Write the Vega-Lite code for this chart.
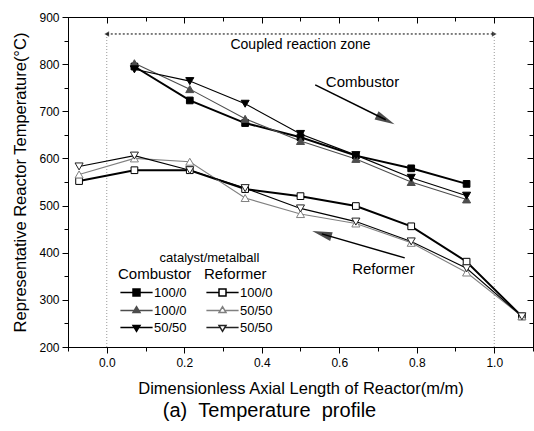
{
  "$schema": "https://vega.github.io/schema/vega-lite/v6.json",
  "width": 465,
  "height": 330,
  "autosize": "none",
  "padding": {"left": 68, "top": 17, "right": 1, "bottom": 84},
  "background": "white",
  "title": {"text": "(a)\u00a0\u00a0Temperature\u00a0\u00a0profile", "orient": "bottom", "anchor": "middle", "dx": -31, "fontSize": 20, "fontWeight": "normal", "font": "Liberation Sans", "color": "black", "offset": 4},
  "config": {
    "font": "Liberation Sans",
    "view": {"stroke": "black", "strokeWidth": 1},
    "axis": {"labelFont": "Liberation Sans", "labelFontSize": 12, "labelColor": "black", "tickColor": "black", "domainColor": "black", "titleColor": "black", "titleFontWeight": "normal", "titleFont": "Liberation Sans", "grid": false, "labelOverlap": false, "labelFlush": false},
    "legend": {"padding": 0, "titleFontSize": 15, "titleFontWeight": "normal", "titleColor": "black", "titleFont": "Liberation Sans", "titlePadding": 4, "labelFontSize": 13, "labelColor": "black", "labelFont": "Liberation Sans", "labelOffset": 23, "symbolSize": 49, "rowPadding": 3}
  },
  "datasets": {
    "comb": [
      {"x": 0.0714, "y": 795, "series": "C1"}, {"x": 0.2143, "y": 723, "series": "C1"}, {"x": 0.3571, "y": 675, "series": "C1"}, {"x": 0.5, "y": 645, "series": "C1"}, {"x": 0.6429, "y": 606, "series": "C1"}, {"x": 0.7857, "y": 579, "series": "C1"}, {"x": 0.9286, "y": 546, "series": "C1"},
      {"x": 0.0714, "y": 802, "series": "C2"}, {"x": 0.2143, "y": 747, "series": "C2"}, {"x": 0.3571, "y": 684, "series": "C2"}, {"x": 0.5, "y": 637, "series": "C2"}, {"x": 0.6429, "y": 599, "series": "C2"}, {"x": 0.7857, "y": 550, "series": "C2"}, {"x": 0.9286, "y": 513, "series": "C2"},
      {"x": 0.0714, "y": 789, "series": "C3"}, {"x": 0.2143, "y": 764, "series": "C3"}, {"x": 0.3571, "y": 716, "series": "C3"}, {"x": 0.5, "y": 652, "series": "C3"}, {"x": 0.6429, "y": 607, "series": "C3"}, {"x": 0.7857, "y": 559, "series": "C3"}, {"x": 0.9286, "y": 521, "series": "C3"}
    ],
    "ref": [
      {"x": -0.0714, "y": 552, "series": "R1"}, {"x": 0.0714, "y": 575, "series": "R1"}, {"x": 0.2143, "y": 575, "series": "R1"}, {"x": 0.3571, "y": 535, "series": "R1"}, {"x": 0.5, "y": 520, "series": "R1"}, {"x": 0.6429, "y": 499, "series": "R1"}, {"x": 0.7857, "y": 456, "series": "R1"}, {"x": 0.9286, "y": 381, "series": "R1"}, {"x": 1.0714, "y": 265, "series": "R1"},
      {"x": -0.0714, "y": 566, "series": "R2"}, {"x": 0.0714, "y": 600, "series": "R2"}, {"x": 0.2143, "y": 593, "series": "R2"}, {"x": 0.3571, "y": 516, "series": "R2"}, {"x": 0.5, "y": 482, "series": "R2"}, {"x": 0.6429, "y": 462, "series": "R2"}, {"x": 0.7857, "y": 421, "series": "R2"}, {"x": 0.9286, "y": 358, "series": "R2"}, {"x": 1.0714, "y": 265, "series": "R2"},
      {"x": -0.0714, "y": 583, "series": "R3"}, {"x": 0.0714, "y": 606, "series": "R3"}, {"x": 0.2143, "y": 575, "series": "R3"}, {"x": 0.3571, "y": 537, "series": "R3"}, {"x": 0.5, "y": 494, "series": "R3"}, {"x": 0.6429, "y": 466, "series": "R3"}, {"x": 0.7857, "y": 424, "series": "R3"}, {"x": 0.9286, "y": 367, "series": "R3"}, {"x": 1.0714, "y": 265, "series": "R3"}
    ],
    "vlines": [{"x": 0, "y": 200, "y2": 864}, {"x": 1, "y": 200, "y2": 864}],
    "hline": [{"x": 0, "x2": 1, "y": 864}],
    "heads": [{"x": 0, "y": 864, "dir": "L"}, {"x": 1, "y": 864, "dir": "R"}],
    "labels": [
      {"x": 0.5, "y": 841, "label": "Coupled reaction zone"},
      {"x": 0.66, "y": 762, "label": "Combustor"},
      {"x": 0.714, "y": 365, "label": "Reformer"},
      {"x": 0.265, "y": 389, "label": "catalyst/metalball"}
    ],
    "arrows": [{"x": 0.538, "y": 756, "x2": 0.72, "y2": 682}, {"x": 0.769, "y": 389, "x2": 0.555, "y2": 440}],
    "headC": [{"x": 0.7195, "y": 682}],
    "headR": [{"x": 0.555, "y": 440}]
  },
  "encoding": {
    "x": {"field": "x", "type": "quantitative", "scale": {"domain": [-0.1, 1.1], "nice": false}, "axis": null},
    "y": {"field": "y", "type": "quantitative", "scale": {"domain": [200, 900], "nice": false, "zero": false}, "axis": null}
  },
  "layer": [
    {
      "data": {"name": "vlines"},
      "mark": {"type": "rule", "color": "#999999", "strokeDash": [1, 2], "strokeWidth": 1},
      "encoding": {
        "x": {"field": "x", "type": "quantitative", "scale": {"domain": [-0.1, 1.1], "nice": false},
          "axis": {"orient": "bottom", "values": [-0.1, 0, 0.1, 0.2, 0.3, 0.4, 0.5, 0.6, 0.7, 0.8, 0.9, 1.0, 1.1],
            "labelExpr": "round(datum.value*10) % 2 == 0 ? format(datum.value, '.1f') : ''",
            "tickSize": {"condition": {"test": "round(datum.value*10) % 2 == 0", "value": 6}, "value": 4},
            "labelPadding": 4,
            "title": "Dimensionless Axial Length of Reactor(m/m)", "titleFontSize": 16.5, "titlePadding": 12}},
        "y": {"field": "y", "type": "quantitative", "scale": {"domain": [200, 900], "nice": false, "zero": false},
          "axis": {"orient": "left", "values": [200, 250, 300, 350, 400, 450, 500, 550, 600, 650, 700, 750, 800, 850, 900],
            "labelExpr": "datum.value % 100 == 0 ? datum.label : ''",
            "tickSize": {"condition": {"test": "datum.value % 100 == 0", "value": 6}, "value": 4},
            "labelPadding": 3,
            "title": "Representative Reactor Temperature(°C)", "titleFontSize": 16.5, "titlePadding": 10}},
        "y2": {"field": "y2"}
      }
    },
    {
      "data": {"name": "hline"},
      "mark": {"type": "rule", "color": "black", "strokeDash": [2, 2], "strokeWidth": 1},
      "encoding": {
        "x": {"field": "x", "type": "quantitative", "scale": {"domain": [-0.1, 1.1], "nice": false},
          "axis": {"orient": "top", "values": [-0.1, 0, 0.1, 0.2, 0.3, 0.4, 0.5, 0.6, 0.7, 0.8, 0.9, 1.0, 1.1], "labels": false, "domain": false, "title": null,
            "tickSize": {"condition": {"test": "round(datum.value*10) % 2 == 0", "value": -6}, "value": -4}}},
        "y": {"field": "y", "type": "quantitative", "scale": {"domain": [200, 900], "nice": false, "zero": false},
          "axis": {"orient": "right", "values": [200, 250, 300, 350, 400, 450, 500, 550, 600, 650, 700, 750, 800, 850, 900], "labels": false, "domain": false, "title": null,
            "tickSize": {"condition": {"test": "datum.value % 100 == 0", "value": -6}, "value": -4}}},
        "x2": {"field": "x2"}
      }
    },
    {
      "data": {"name": "heads"},
      "mark": {"type": "point", "filled": true, "color": "black", "size": 30},
      "encoding": {
        "shape": {"condition": {"test": "datum.dir == 'L'", "value": "triangle-left"}, "value": "triangle-right"}
      }
    },
    {
      "data": {"name": "labels"},
      "mark": {"type": "text", "color": "black", "font": "Liberation Sans", "align": "center", "baseline": "middle"},
      "encoding": {
        "text": {"field": "label"},
        "size": {"condition": [{"test": "datum.label == 'catalyst/metalball'", "value": 13}, {"test": "datum.label == 'Coupled reaction zone'", "value": 14}], "value": 15}
      }
    },
    {
      "data": {"name": "arrows"},
      "mark": {"type": "rule", "color": "black", "strokeWidth": 1.5},
      "encoding": {"x2": {"field": "x2"}, "y2": {"field": "y2"}}
    },
    {
      "data": {"name": "headC"},
      "mark": {"type": "point", "filled": true, "color": "black", "size": 400, "shape": "M1,0L-1,-0.45L-1,0.45Z", "angle": 26},
      "encoding": {}
    },
    {
      "data": {"name": "headR"},
      "mark": {"type": "point", "filled": true, "color": "black", "size": 400, "shape": "M1,0L-1,-0.45L-1,0.45Z", "angle": 196},
      "encoding": {}
    },
    {
      "data": {"name": "comb"},
      "layer": [
        {
          "mark": {"type": "line"},
          "encoding": {
            "detail": {"field": "series"},
            "stroke": {"condition": {"test": "datum.series == 'C2'", "value": "#4d4d4d"}, "value": "black"},
            "strokeWidth": {"condition": {"test": "datum.series == 'C1'", "value": 2}, "value": 1.1}
          }
        },
        {
          "mark": {"type": "point", "opacity": 1, "strokeWidth": 1},
          "encoding": {
            "shape": {"condition": [{"test": "datum.series == 'C1'", "value": "square"}, {"test": "datum.series == 'C2'", "value": "triangle-up"}], "value": "triangle-down"},
            "stroke": {"field": "series", "type": "nominal", "scale": {"domain": ["C1", "C2", "C3"], "range": ["black", "#4d4d4d", "black"]},
              "legend": {"title": "Combustor", "orient": "none", "legendX": 50, "legendY": 250, "labelExpr": "datum.value == 'C3' ? '50/50' : '100/0'"}},
            "fill": {"field": "series", "type": "nominal", "scale": {"domain": ["C1", "C2", "C3"], "range": ["black", "#4d4d4d", "black"]},
              "legend": {"title": "Combustor", "orient": "none", "legendX": 50, "legendY": 250, "labelExpr": "datum.value == 'C3' ? '50/50' : '100/0'"}},
            "size": {"condition": {"test": "datum.series == 'C1'", "value": 45}, "value": 65}
          }
        },
        {
          "transform": [{"filter": "datum.x > 5"}],
          "mark": {"type": "point", "opacity": 1, "strokeWidth": 1.3},
          "encoding": {
            "shape": {"field": "series", "type": "nominal",
              "scale": {"domain": ["C1", "C2", "C3"], "range": ["M-1.17,0H2.43M4.43,0H8.03M2.43,-1H4.43V1H2.43Z", "M-1.17,0H2.78M4.08,0H8.03M3.43,-1.1L4.43,0.6L2.43,0.6Z", "M-1.17,0H2.78M4.08,0H8.03M3.43,1.1L4.43,-0.6L2.43,-0.6Z"]},
              "legend": {"title": "Combustor", "orient": "none", "legendX": 50, "legendY": 250, "labelExpr": "datum.value == 'C3' ? '50/50' : '100/0'"}},
            "stroke": {"field": "series", "type": "nominal",
              "legend": {"title": "Combustor", "orient": "none", "legendX": 50, "legendY": 250, "labelExpr": "datum.value == 'C3' ? '50/50' : '100/0'"}},
            "fill": {"field": "series", "type": "nominal",
              "legend": {"title": "Combustor", "orient": "none", "legendX": 50, "legendY": 250, "labelExpr": "datum.value == 'C3' ? '50/50' : '100/0'"}}
          }
        }
      ]
    },
    {
      "data": {"name": "ref"},
      "layer": [
        {
          "mark": {"type": "line"},
          "encoding": {
            "detail": {"field": "series"},
            "stroke": {"condition": {"test": "datum.series == 'R2'", "value": "#808080"}, "value": "black"},
            "strokeWidth": {"condition": {"test": "datum.series == 'R1'", "value": 2}, "value": 1.1}
          }
        },
        {
          "mark": {"type": "point", "opacity": 1, "strokeWidth": 1},
          "encoding": {
            "shape": {"condition": [{"test": "datum.series == 'R1'", "value": "square"}, {"test": "datum.series == 'R2'", "value": "triangle-up"}], "value": "triangle-down"},
            "stroke": {"field": "series", "type": "nominal", "scale": {"domain": ["R1", "R2", "R3"], "range": ["black", "#808080", "#222222"]},
              "legend": {"title": "Reformer", "orient": "none", "legendX": 136, "legendY": 250, "labelExpr": "datum.value == 'R1' ? '100/0' : '50/50'"}},
            "fill": {"field": "series", "type": "nominal", "scale": {"domain": ["R1", "R2", "R3"], "range": ["white", "white", "white"]},
              "legend": {"title": "Reformer", "orient": "none", "legendX": 136, "legendY": 250, "labelExpr": "datum.value == 'R1' ? '100/0' : '50/50'"}},
            "size": {"condition": {"test": "datum.series == 'R1'", "value": 45}, "value": 65}
          }
        },
        {
          "transform": [{"filter": "datum.x > 5"}],
          "mark": {"type": "point", "opacity": 1, "strokeWidth": 1.3},
          "encoding": {
            "shape": {"field": "series", "type": "nominal",
              "scale": {"domain": ["R1", "R2", "R3"], "range": ["M-1.17,0H2.43M4.43,0H8.03M2.43,-1H4.43V1H2.43Z", "M-1.17,0H2.78M4.08,0H8.03M3.43,-1.1L4.43,0.6L2.43,0.6Z", "M-1.17,0H2.78M4.08,0H8.03M3.43,1.1L4.43,-0.6L2.43,-0.6Z"]},
              "legend": {"title": "Reformer", "orient": "none", "legendX": 136, "legendY": 250, "labelExpr": "datum.value == 'R1' ? '100/0' : '50/50'"}},
            "stroke": {"field": "series", "type": "nominal",
              "legend": {"title": "Reformer", "orient": "none", "legendX": 136, "legendY": 250, "labelExpr": "datum.value == 'R1' ? '100/0' : '50/50'"}},
            "fill": {"field": "series", "type": "nominal",
              "legend": {"title": "Reformer", "orient": "none", "legendX": 136, "legendY": 250, "labelExpr": "datum.value == 'R1' ? '100/0' : '50/50'"}}
          }
        }
      ]
    }
  ],
  "resolve": {
    "scale": {"stroke": "independent", "fill": "independent", "shape": "independent"},
    "axis": {"x": "independent", "y": "independent"}
  }
}
